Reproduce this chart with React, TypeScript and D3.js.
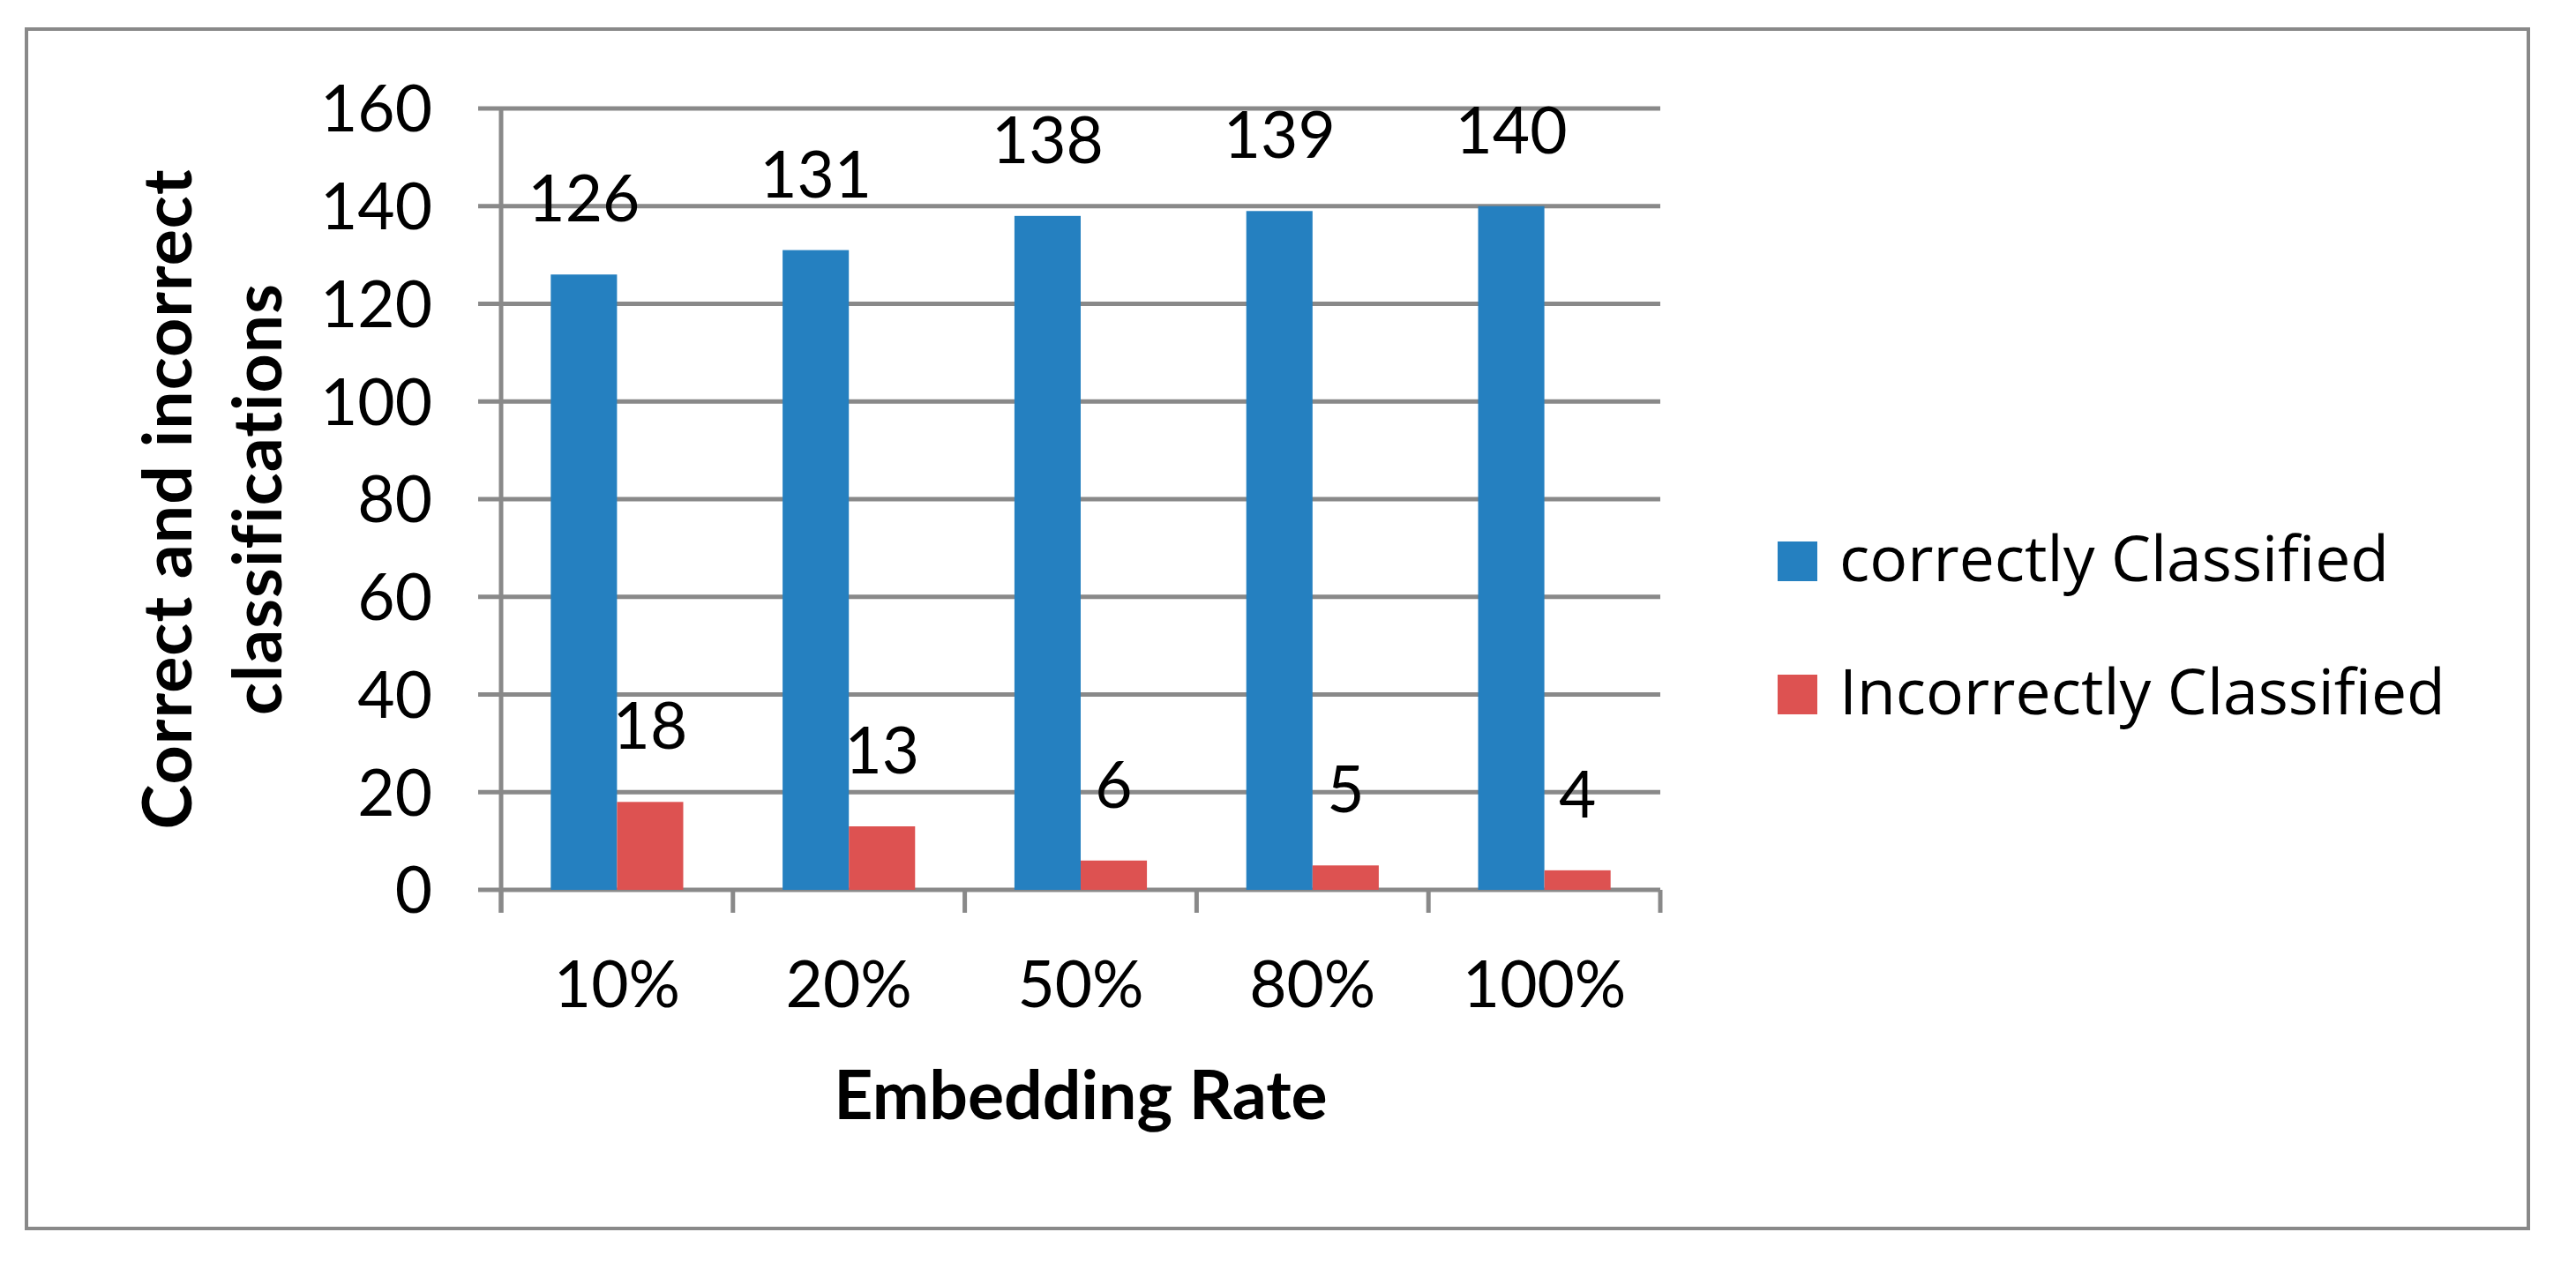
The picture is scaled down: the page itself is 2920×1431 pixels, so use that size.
import React, { useEffect, useRef } from "react";
import * as d3 from "d3";

const rates = ["10%", "20%", "50%", "80%", "100%"];
const correct = [126, 131, 138, 139, 140];
const incorrect = [18, 13, 6, 5, 4];
const seriesNames = ["correctly Classified", "Incorrectly Classified"];
const seriesColors = ["#2580c0", "#dd5251"];
const yTicks = [0, 20, 40, 60, 80, 100, 120, 140, 160];

const W = 2920;
const H = 1431;
const grid = "#898989";
const numFont = "Lato, 'Liberation Sans', sans-serif";
const legendFont = "'Open Sans', 'DejaVu Sans', sans-serif";

const App = () => {
  const ref = useRef<SVGSVGElement>(null);

  useEffect(() => {
    document.body.style.margin = "0";
    if (!ref.current) return;
    const svg = d3.select(ref.current);
    svg.selectAll("*").remove();

    // outer frame
    svg
      .append("rect")
      .attr("x", 30)
      .attr("y", 33)
      .attr("width", 2836)
      .attr("height", 1360)
      .attr("fill", "#fff")
      .attr("stroke", grid)
      .attr("stroke-width", 4);

    const left = 568,
      right = 1882,
      top = 123,
      bottom = 1009;

    const x = d3.scaleBand<string>().domain(rates).range([left, right]);
    // gap width 150% -> two bars take 2/3.5 of each band
    const bw = x.bandwidth() / 3.5;
    const y = d3.scaleLinear().domain([0, 160]).range([bottom, top]);

    const g = svg.append("g");

    // gridlines with small outward ticks
    g.selectAll("line.grid")
      .data(yTicks)
      .join("line")
      .attr("class", "grid")
      .attr("x1", left - 26)
      .attr("x2", right)
      .attr("y1", (d) => y(d))
      .attr("y2", (d) => y(d))
      .attr("stroke", grid)
      .attr("stroke-width", 5);

    g.append("line")
      .attr("x1", left)
      .attr("x2", left)
      .attr("y1", top)
      .attr("y2", bottom + 26)
      .attr("stroke", grid)
      .attr("stroke-width", 5);

    // category ticks under the x axis
    const bounds = rates.map((r) => x(r)! + x.bandwidth()).concat([left]);
    g.selectAll("line.xtick")
      .data(bounds)
      .join("line")
      .attr("class", "xtick")
      .attr("x1", (d) => d)
      .attr("x2", (d) => d)
      .attr("y1", bottom)
      .attr("y2", bottom + 26)
      .attr("stroke", grid)
      .attr("stroke-width", 5);

    g.selectAll("text.ytick")
      .data(yTicks)
      .join("text")
      .attr("class", "ytick")
      .attr("x", 490)
      .attr("y", (d) => y(d))
      .attr("dy", "0.36em")
      .attr("text-anchor", "end")
      .attr("font-family", numFont)
      .attr("font-size", 73)
      .text((d) => d);

    const series = [correct, incorrect];
    series.forEach((vals, si) => {
      const bx = (i: number) => x(rates[i])! + x.bandwidth() / 2 - bw + si * bw;
      g.append("g")
        .selectAll("rect")
        .data(vals)
        .join("rect")
        .attr("x", (_, i) => bx(i))
        .attr("y", (d) => y(d))
        .attr("width", bw)
        .attr("height", (d) => bottom - y(d))
        .attr("fill", seriesColors[si]);
      g.append("g")
        .selectAll("text")
        .data(vals)
        .join("text")
        .attr("x", (_, i) => bx(i) + bw / 2)
        .attr("y", (d) => y(d) - 60)
        .attr("text-anchor", "middle")
        .attr("font-family", numFont)
        .attr("font-size", 73)
        .text((d) => d);
    });

    g.selectAll("text.xlab")
      .data(rates)
      .join("text")
      .attr("class", "xlab")
      .attr("x", (d) => x(d)! + x.bandwidth() / 2)
      .attr("y", 1142)
      .attr("text-anchor", "middle")
      .attr("font-family", numFont)
      .attr("font-size", 73)
      .text((d) => d);

    g.append("text")
      .attr("x", (left + right) / 2)
      .attr("y", 1269)
      .attr("text-anchor", "middle")
      .attr("font-family", numFont)
      .attr("font-weight", "bold")
      .attr("font-size", 77)
      .text("Embedding Rate");

    const yTitle = ["Correct and incorrect", "classifications"];
    g.selectAll("text.ytitle")
      .data(yTitle)
      .join("text")
      .attr("class", "ytitle")
      .attr("transform", (_, i) => `translate(${217 + i * 102},${(top + bottom) / 2}) rotate(-90)`)
      .attr("text-anchor", "middle")
      .attr("font-family", numFont)
      .attr("font-weight", "bold")
      .attr("font-size", 77)
      .attr("letter-spacing", 1)
      .text((d) => d);

    // legend
    const lg = svg.append("g");
    seriesNames.forEach((name, i) => {
      const base = 659 + i * 151;
      lg.append("rect")
        .attr("x", 2015)
        .attr("y", base - 45)
        .attr("width", 45)
        .attr("height", 45)
        .attr("fill", seriesColors[i]);
      lg.append("text")
        .attr("x", 2085)
        .attr("y", base)
        .attr("font-family", legendFont)
        .attr("font-size", 71.5)
        .text(name);
    });
  }, []);

  return <svg ref={ref} width={W} height={H} style={{ display: "block" }} />;
};

export default App;
